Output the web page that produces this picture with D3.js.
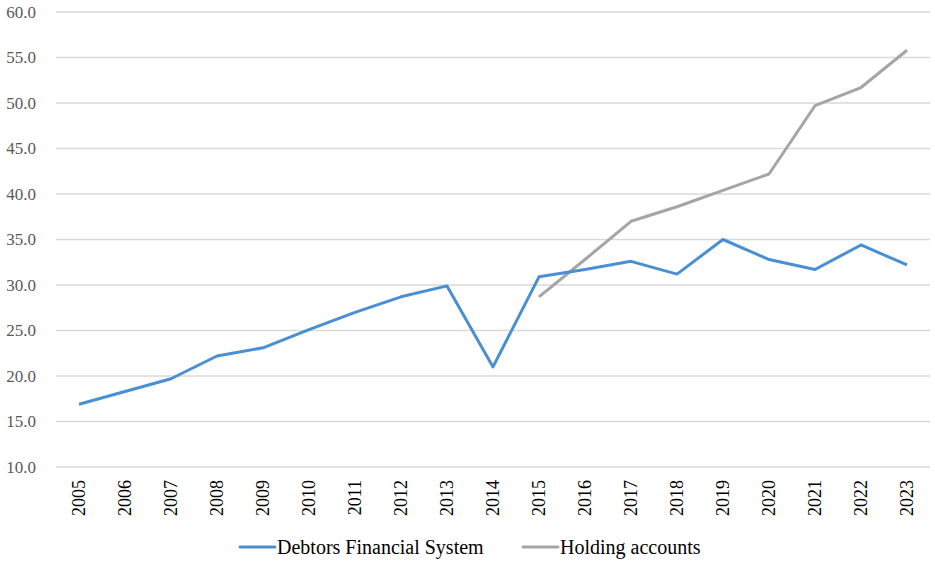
<!DOCTYPE html>
<html>
<head>
<meta charset="utf-8">
<script src="https://cdn.jsdelivr.net/npm/d3@7"></script>
<style>
  body { margin: 0; background: #fff; }
  svg text { font-family: "Liberation Serif", "DejaVu Serif", serif !important; }
</style>
</head>
<body>
<svg id="chart" width="935" height="562"></svg>
<script>

var years = ["2005","2006","2007","2008","2009","2010","2011","2012","2013","2014",
	"2015","2016","2017","2018","2019","2020","2021","2022","2023"];
var debtors = [16.9, 18.3, 19.7, 22.2, 23.1, 25.1, 27.0, 28.7, 29.9, 21.0,
	30.9, 31.7, 32.6, 31.2, 35.0, 32.8, 31.7, 34.4, 32.2];
var holding = [null, null, null, null, null, null, null, null, null, null,
	28.7, 32.8, 37.0, 38.6, 40.4, 42.2, 49.7, 51.7, 55.8];
var yTicks = [10, 15, 20, 25, 30, 35, 40, 45, 50, 55, 60];
var seriesNames = ["Debtors Financial System", "Holding accounts"];
var seriesColors = ["#4a8fd4", "#a5a5a5"];

var svg = d3.select("#chart");

var x = d3.scaleBand()
	.domain(years)
	.range([56, 930]);

var y = d3.scaleLinear()
	.domain([10, 60])
	.range([467, 12]);

// gridlines
svg.append("g")
	.selectAll("line")
	.data(yTicks)
	.enter().append("line")
	.attr("x1", 56)
	.attr("x2", 930)
	.attr("y1", function(d) { return y(d); })
	.attr("y2", function(d) { return y(d); })
	.attr("stroke", "#d9d9d9")
	.attr("stroke-width", 1.3);

// y axis labels
var yAxis = d3.axisLeft(y)
	.tickValues(yTicks)
	.tickSize(0)
	.tickPadding(0)
	.tickFormat(d3.format(".1f"));

var gy = svg.append("g")
	.attr("transform", "translate(36,0)")
	.attr("font-family", null)
	.call(yAxis);
gy.select(".domain").remove();
gy.selectAll("text")
	.attr("fill", "#595959")
	.style("font-size", "17px");

// x axis labels, rotated
var xAxis = d3.axisBottom(x)
	.tickSize(0)
	.tickPadding(0);

var gx = svg.append("g")
	.attr("transform", "translate(0,480)")
	.call(xAxis);
gx.select(".domain").remove();
gx.selectAll("text")
	.attr("fill", "#000")
	.style("font-size", "18px")
	.attr("text-anchor", "end")
	.attr("y", 0)
	.attr("dy", "0.35em")
	.attr("transform", "rotate(-90)");

var line = d3.line()
	.defined(function(d) { return d != null; })
	.x(function(d, i) { return x(years[i]) + x.bandwidth() / 2; })
	.y(function(d) { return y(d); });

svg.append("path")
	.datum(holding)
	.attr("fill", "none")
	.attr("stroke", seriesColors[1])
	.attr("stroke-width", 3)
	.attr("stroke-linejoin", "round")
	.attr("d", line);

svg.append("path")
	.datum(debtors)
	.attr("fill", "none")
	.attr("stroke", seriesColors[0])
	.attr("stroke-width", 3)
	.attr("stroke-linejoin", "round")
	.attr("d", line);

// legend
var legendX = [240, 523];
var legend = svg.append("g")
	.selectAll("g")
	.data(seriesNames)
	.enter().append("g")
	.attr("transform", function(d, i) { return "translate(" + legendX[i] + ",547)"; });

legend.append("line")
	.attr("x1", 0)
	.attr("x2", 35)
	.attr("stroke", function(d, i) { return seriesColors[i]; })
	.attr("stroke-width", 3)
	.attr("stroke-linecap", "round");

legend.append("text")
	.attr("x", 37)
	.attr("dy", "0.35em")
	.attr("fill", "#000")
	.style("font-size", "20px")
	.text(function(d) { return d; });

</script>
</body>
</html>
